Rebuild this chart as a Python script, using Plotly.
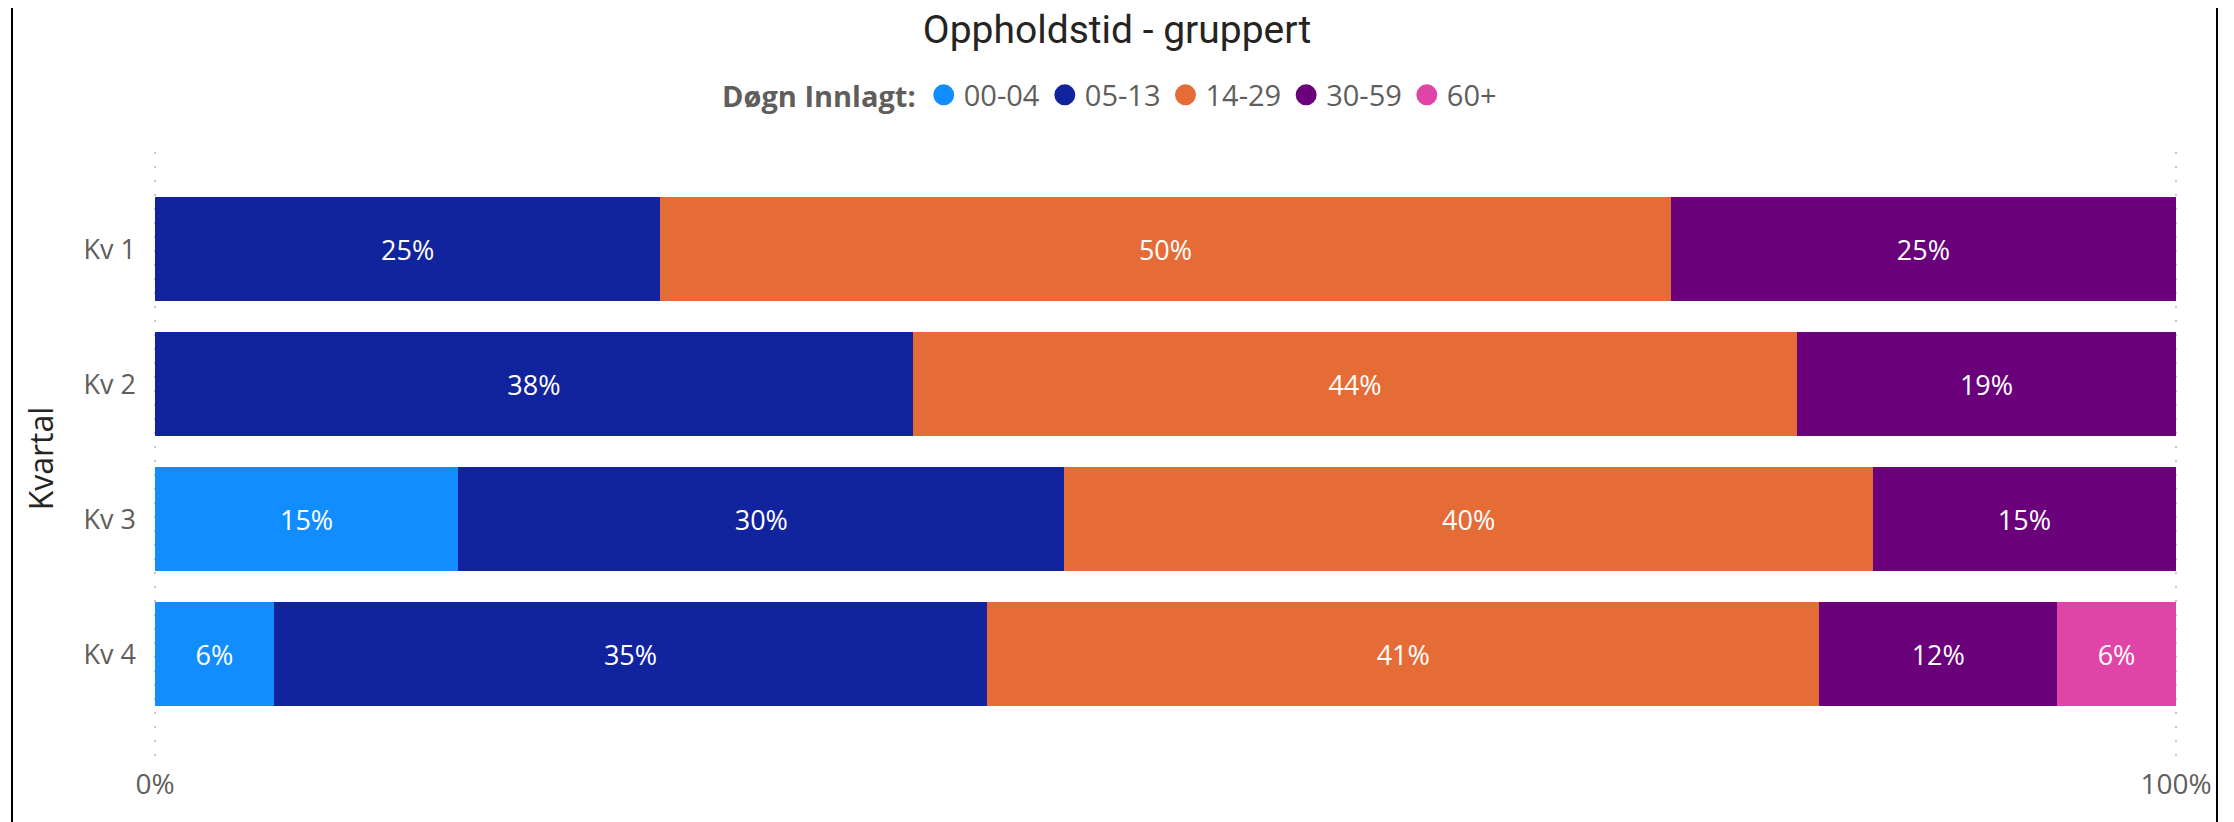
import plotly.graph_objects as go
import numpy as np

categories = ["Kv 1", "Kv 2", "Kv 3", "Kv 4"]
groups = ["00-04", "05-13", "14-29", "30-59", "60+"]
# counts per quarter (share of each group)
counts = {
    "00-04": [0, 0, 3, 1],
    "05-13": [1, 6, 6, 6],
    "14-29": [2, 7, 8, 7],
    "30-59": [1, 3, 3, 2],
    "60+":   [0, 0, 0, 1],
}
colors = {
    "00-04": "#118DFF",
    "05-13": "#12239E",
    "14-29": "#E66C37",
    "30-59": "#6B007B",
    "60+":   "#E044A7",
}
x_ticks = [0, 100]
x_ticktext = ["0%", "100%"]

totals = np.sum([counts[g] for g in groups], axis=0)

# page body has an 8px margin; figure sized so it fits the 2234x822 window
OFF = 8
PAD = 3  # extra px each side so gridlines at 0% / 100% are not clipped
W, H = 2234 - OFF, 822 - OFF
X0, X1 = 155, 2176          # target page x of 0% and 100%
L, T = X0 - PAD - OFF, 152 - OFF
R = W - (X1 + PAD - OFF)
B = H - (765 - OFF)
PW = W - L - R
ext = 100 * PAD / (X1 - X0)

FONT = "Segoe UI, Open Sans, sans-serif"

fig = go.Figure()
for g in groups:
    vals = np.array(counts[g], dtype=float)
    share = vals / totals * 100
    txt = [f"{int(np.floor(s + 0.5))}%" if v > 0 else "" for s, v in zip(share, vals)]
    fig.add_trace(go.Bar(
        y=categories,
        x=[s if v > 0 else None for s, v in zip(share, vals)],
        orientation="h",
        name=g,
        marker=dict(color=colors[g], line=dict(width=0)),
        text=txt,
        textposition="inside",
        insidetextanchor="middle",
        textangle=0,
        textfont=dict(color="white", size=27, family=FONT),
        showlegend=False,
        hovertemplate="%{y}: %{x:.1f}%<extra>" + g + "</extra>",
    ))

# legend entries with round markers
for g in groups:
    fig.add_trace(go.Scatter(
        x=[None], y=[None], mode="markers", name=g,
        marker=dict(symbol="circle", size=22, color=colors[g],
                    line=dict(color=colors[g], width=5)),
        showlegend=True,
    ))

fig.update_layout(
    width=W, height=H,
    margin=dict(l=L, r=R, t=T, b=B, pad=0, autoexpand=False),
    paper_bgcolor="white", plot_bgcolor="white",
    barmode="stack",
    bargap=0.23,
    font=dict(family=FONT, color="#605E5C"),
    title=dict(
        text="Oppholdstid - gruppert",
        x=(1117 - OFF) / W, xanchor="center", xref="container",
        y=1 - (29 - OFF) / H, yanchor="middle", yref="container",
        font=dict(family="Roboto, DejaVu Sans", size=39, color="#252423"),
    ),
    legend=dict(
        orientation="h",
        traceorder="normal",
        xref="container", yref="container",
        x=(1111 - OFF) / W, xanchor="center",
        y=1 - (95 - OFF) / H, yanchor="middle",
        title=dict(text="<b>Døgn Innlagt:</b>", font=dict(size=29, color="#605E5C", family=FONT)),
        font=dict(size=29, color="#605E5C", family=FONT),
        itemwidth=30,
        bgcolor="rgba(0,0,0,0)",
    ),
    xaxis=dict(
        range=[-ext, 100 + ext],
        tickvals=x_ticks, ticktext=x_ticktext,
        showgrid=True, gridcolor="#C8C6C4", gridwidth=2, griddash="2px,12px",
        zeroline=False, showline=False, automargin=False,
        tickfont=dict(size=28, color="#605E5C", family=FONT),
        ticks="", fixedrange=True,
    ),
    yaxis=dict(
        type="category",
        categoryorder="array", categoryarray=categories,
        range=[3.82, -0.72],
        showgrid=False, zeroline=False, showline=False, automargin=False,
        tickfont=dict(size=27, color="#605E5C", family=FONT),
        ticks="", ticklabelstandoff=15,
        title=dict(text="Kvartal", font=dict(size=32, color="#252423", family=FONT), standoff=20),
    ),
    shapes=[
        dict(type="line", xref="paper", yref="paper",
             x0=(12 - OFF - L) / PW, x1=(12 - OFF - L) / PW,
             y0=-0.3, y1=1.4, line=dict(color="black", width=2)),
        dict(type="line", xref="paper", yref="paper",
             x0=(2217 - OFF - L) / PW, x1=(2217 - OFF - L) / PW,
             y0=-0.3, y1=1.4, line=dict(color="black", width=2)),
    ],
)

fig.write_html("out.html")
